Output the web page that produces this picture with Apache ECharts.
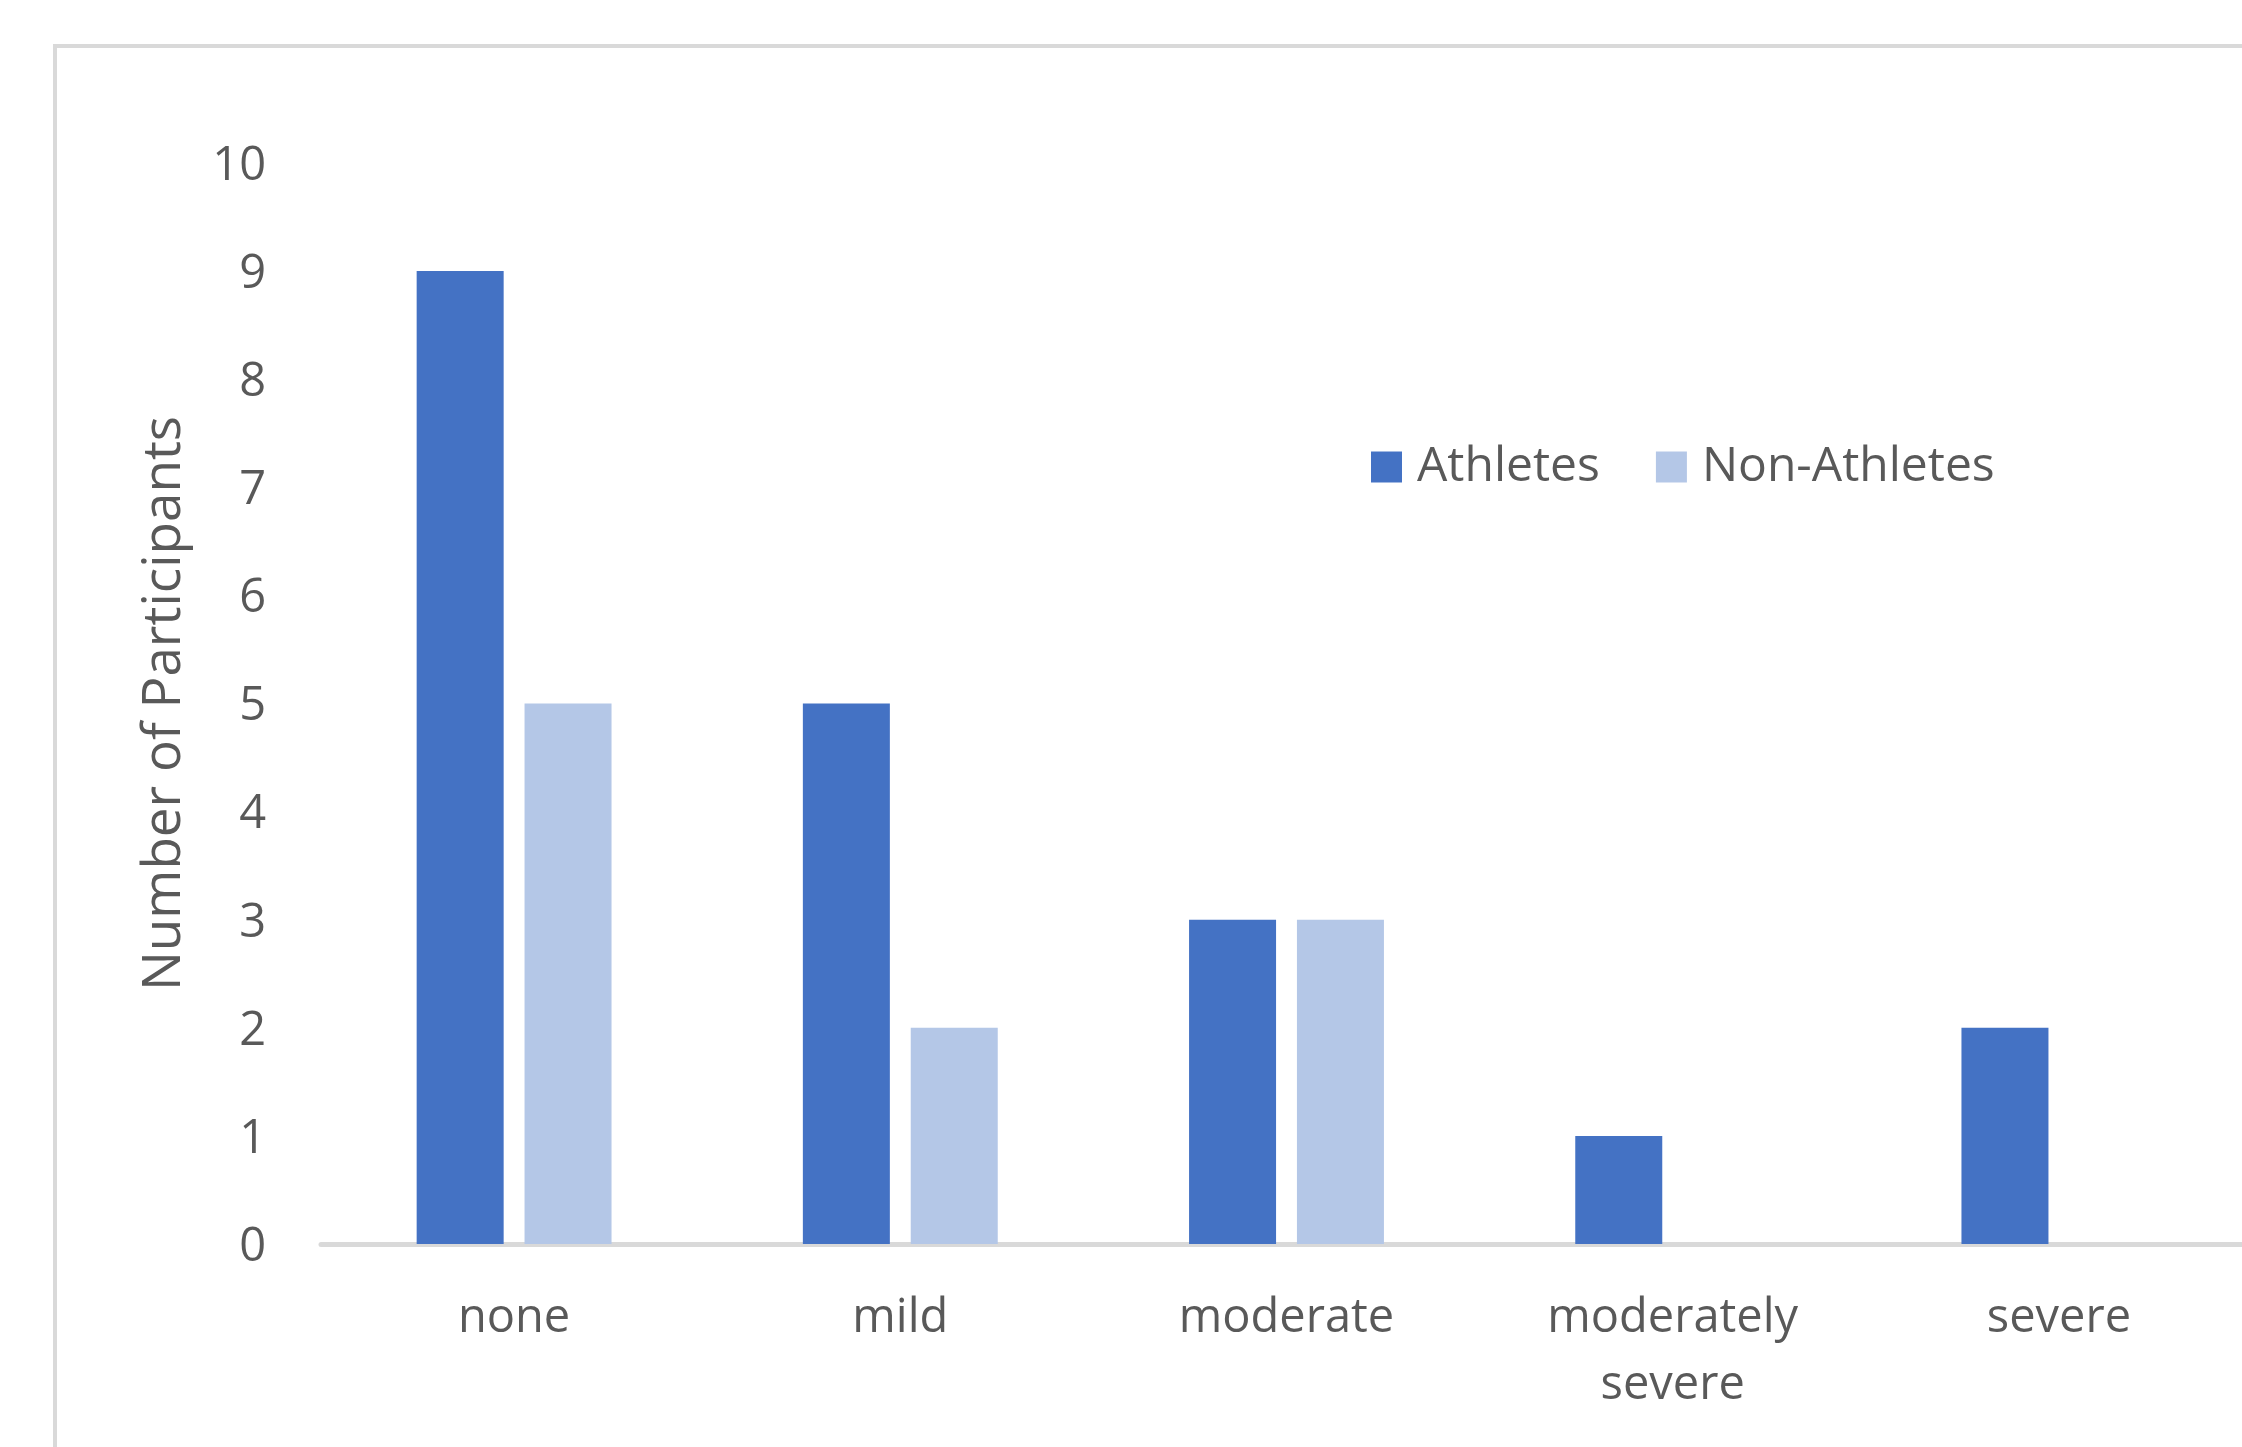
<!DOCTYPE html>
<html>
<head>
<meta charset="utf-8">
<script src="https://cdn.jsdelivr.net/npm/echarts@6/dist/echarts.min.js"></script>
<style>
html,body{margin:0;padding:0;background:#fff;}
#chart{width:2242px;height:1447px;}
</style>
</head>
<body>
<div id="chart"></div>
<script>
const categories = ['none', 'mild', 'moderate', 'moderately\nsevere', 'severe'];
const athletes = [9, 5, 3, 1, 2];
const nonAthletes = [5, 2, 3, 0, 0];
const yTicks = [0, 1, 2, 3, 4, 5, 6, 7, 8, 9, 10];
const seriesNames = ['Athletes', 'Non-Athletes'];

const FONT = 'Open Sans';
const TXT = '#595959';
const chart = echarts.init(document.getElementById('chart'), null, {renderer: 'canvas'});
chart.setOption({
  backgroundColor: '#ffffff',
  animation: false,
  graphic: [{
    type: 'rect',
    shape: {x: 55, y: 46, width: 3000, height: 3000},
    style: {fill: 'none', stroke: '#D9D9D9', lineWidth: 4},
    silent: true,
    z: -1
  }],
  legend: {
    data: seriesNames,
    left: 1366,
    top: 438,
    icon: 'rect',
    itemWidth: 31,
    itemHeight: 31,
    itemGap: 56,
    textStyle: {color: TXT, fontFamily: FONT, fontSize: 48, padding: [0, 0, 0, 10]}
  },
  grid: {left: 321, top: 163, width: 1931, height: 1081, containLabel: false, outerBoundsMode: 'none'},
  xAxis: {
    type: 'category',
    data: categories,
    axisLine: {show: true, lineStyle: {color: '#D9D9D9', width: 5}},
    axisTick: {show: false},
    axisLabel: {color: TXT, fontFamily: FONT, fontSize: 47, lineHeight: 67, margin: 41, interval: 0}
  },
  yAxis: {
    type: 'value',
    min: yTicks[0],
    max: yTicks[yTicks.length - 1],
    interval: 1,
    name: 'Number of Participants',
    nameLocation: 'middle',
    nameRotate: 90,
    nameGap: 130,
    nameTextStyle: {color: TXT, fontFamily: FONT, fontSize: 53},
    axisLine: {show: false},
    axisTick: {show: false},
    splitLine: {show: false},
    axisLabel: {
      color: TXT, fontFamily: FONT, fontSize: 47, margin: 55,
      formatter: '{v|{value}}',
      rich: {v: {color: TXT, fontFamily: FONT, fontSize: 47, padding: [7, 0, 0, 0]}}
    }
  },
  series: [
    {name: seriesNames[0], type: 'bar', data: athletes, barWidth: 87, barGap: '24%',
     itemStyle: {color: '#4472C4'}},
    {name: seriesNames[1], type: 'bar', data: nonAthletes, barWidth: 87,
     itemStyle: {color: '#B4C7E7'}}
  ]
});
</script>
</body>
</html>
